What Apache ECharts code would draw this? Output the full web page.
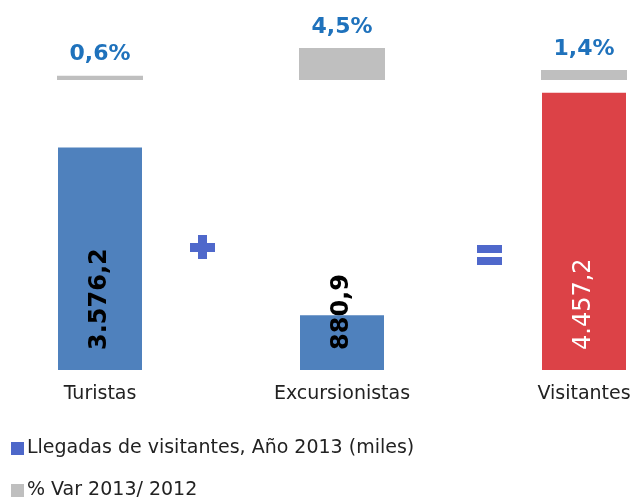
<!DOCTYPE html>
<html>
<head>
<meta charset="utf-8">
<script src="https://cdn.jsdelivr.net/npm/echarts@6/dist/echarts.min.js"></script>
<style>
  html, body { margin: 0; padding: 0; background: #fff; }
  #chart { width: 635px; height: 500px; }
</style>
</head>
<body>
<div id="chart"></div>
<script>
const categories = ['Turistas', 'Excursionistas', 'Visitantes'];
const llegadas = [3576.2, 880.9, 4457.2];
const variacion = [0.6, 4.5, 1.4];
const seriesNames = ['Llegadas de visitantes, Año 2013 (miles)', '% Var 2013/ 2012'];

const FONT = 'DejaVu Sans';
const chart = echarts.init(document.getElementById('chart'));

// formato español: 3.576,2
const fmtNum = v => {
  const parts = v.toFixed(1).split('.');
  return parts[0].replace(/\B(?=(\d{3})+(?!\d))/g, '.') + ',' + parts[1];
};

// una leyenda por fila, apiladas a la izquierda
const legendRow = (name, color, top) => ({
  left: 11, top: top, padding: 0,
  itemWidth: 13, itemHeight: 13, icon: 'rect',
  textStyle: { color: '#222', fontFamily: FONT, fontSize: 19, padding: [0, 0, 0, -2] },
  data: [{ name: name, itemStyle: { color: color } }]
});

const option = {
  animation: false,
  grid: [
    { left: 100, right: 51, top: 59, height: 311 },
    { left: 100, right: 51, top: 16, height: 64 }
  ],
  xAxis: [
    {
      type: 'category', gridIndex: 0, data: categories, boundaryGap: false,
      axisLine: { show: false }, axisTick: { show: false },
      axisLabel: { color: '#222', fontFamily: FONT, fontSize: 19, margin: 15 }
    },
    {
      type: 'category', gridIndex: 1, data: categories, boundaryGap: false,
      axisLine: { show: false }, axisTick: { show: false }, axisLabel: { show: false }
    }
  ],
  yAxis: [
    { type: 'value', gridIndex: 0, min: 0, max: 5000, show: false, splitLine: { show: false } },
    { type: 'value', gridIndex: 1, min: 0, max: 9, show: false, splitLine: { show: false } }
  ],
  legend: [
    legendRow(seriesNames[0], '#4d67c9', 439),
    legendRow(seriesNames[1], '#bfbfbf', 481)
  ],
  series: [
    {
      name: seriesNames[0], type: 'bar', xAxisIndex: 0, yAxisIndex: 0,
      barWidth: 84,
      itemStyle: { color: '#4f81bd' },
      label: {
        show: true, position: 'insideBottom', distance: 20, rotate: 90,
        align: 'left', verticalAlign: 'middle',
        fontFamily: FONT, fontSize: 24, fontWeight: 'bold', color: '#000',
        formatter: p => fmtNum(p.value)
      },
      data: llegadas.map((v, i) => i === 2
        ? { value: v, itemStyle: { color: '#dc4247' }, label: { color: '#fff', fontWeight: 'normal' } }
        : v)
    },
    {
      name: seriesNames[1], type: 'bar', xAxisIndex: 1, yAxisIndex: 1,
      barWidth: 86,
      itemStyle: { color: '#bfbfbf' },
      label: {
        show: true, position: 'top', distance: 10,
        fontFamily: FONT, fontSize: 22, fontWeight: 'bold', color: '#1f72bc',
        formatter: p => p.value.toFixed(1).replace('.', ',') + '%'
      },
      data: variacion
    }
  ],
  graphic: [
    // signo +
    { type: 'rect', shape: { x: 190, y: 243, width: 25, height: 9 }, style: { fill: '#4f68cb' } },
    { type: 'rect', shape: { x: 198, y: 235, width: 9, height: 24 }, style: { fill: '#4f68cb' } },
    // signo =
    { type: 'rect', shape: { x: 477, y: 245, width: 25, height: 8 }, style: { fill: '#4f68cb' } },
    { type: 'rect', shape: { x: 477, y: 257, width: 25, height: 8 }, style: { fill: '#4f68cb' } }
  ]
};

chart.setOption(option);
</script>
</body>
</html>
